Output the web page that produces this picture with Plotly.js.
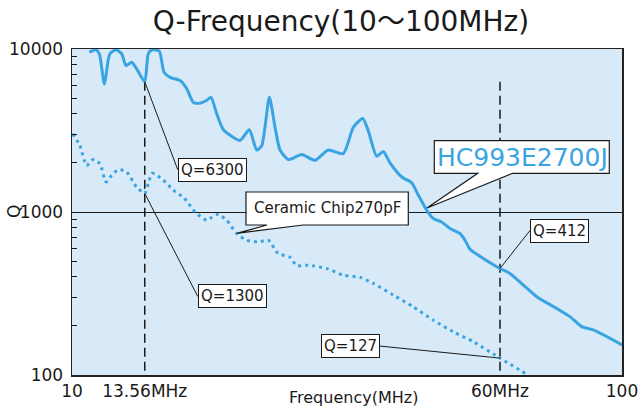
<!DOCTYPE html>
<html><head><meta charset="utf-8">
<script src="https://cdn.plot.ly/plotly-3.0.1.min.js"></script>
<style>html,body{margin:0;padding:0;background:#fff}#chart{width:641px;height:410px}</style>
</head><body><div id="chart"></div>
<script>
// ---- data ----
const hcName = 'HC993E2700J';
const hcFreq = [10.75, 11.06, 11.21, 11.27, 11.45, 11.64, 11.72, 12.02, 12.31, 12.54, 12.84, 13.11, 13.56, 13.76, 13.96, 14.41, 14.70, 15.08, 15.72, 16.17, 16.62, 17.09, 17.58, 17.90, 18.33, 18.85, 20.21, 21.01, 21.67, 22.13, 22.85, 23.40, 23.89, 24.74, 26.17, 27.66, 29.24, 31.13, 32.46, 33.77, 34.57, 35.81, 36.81, 37.86, 39.76, 41.46, 42.62, 44.15, 45.38, 47.01, 48.67, 50.75, 51.83, 52.93, 55.96, 60, 62.57, 66.16, 69.99, 76.06, 80.42, 84.47, 88.67, 100];
const hcQ = [9550, 9900, 9350, 8600, 6100, 8600, 9350, 9900, 9350, 7900, 8300, 7550, 6300, 9350, 9860, 9700, 7200, 6700, 6400, 5700, 4700, 4650, 4850, 5050, 4000, 3200, 2750, 3200, 2400, 2550, 5050, 3300, 2400, 2100, 2250, 2075, 2400, 2280, 3300, 3750, 3150, 2200, 2350, 2000, 1640, 1510, 1270, 1025, 912, 869, 792, 738, 671, 591, 519, 450, 420, 356, 302, 256, 228, 198, 189, 153];

const ceramicName = 'Ceramic Chip270pF';
const ceramicFreq = [10.03, 10.34, 10.63, 10.93, 11.24, 11.53, 11.81, 12.14, 12.57, 13.11, 13.56, 13.76, 14.00, 14.66, 15.29, 15.99, 16.74, 17.58, 17.97, 18.45, 19.11, 19.93, 20.78, 21.82, 22.75, 23.69, 24.91, 25.62, 26.90, 29.05, 31.13, 33.39, 35.30, 38.39, 41.74, 45.38, 49.35, 53.66, 60, 67.11];
const ceramicQ = [3020, 2550, 1930, 2100, 1980, 1530, 1680, 1820, 1760, 1420, 1300, 1490, 1730, 1565, 1360, 1220, 1000, 890, 929, 969, 890, 738, 671, 655, 671, 557, 528, 469, 472, 450, 410, 397, 365, 309, 262, 217, 184, 160, 127, 101];

const markerFreqs = [13.56, 60];
const markerTopQ = 6300;
const markerBottomQ = 100;
const hcLabels = ['Q=6300', 'Q=412'];
const ceramicLabels = ['Q=1300', 'Q=127'];

const xTickVals = [10, 13.56, 60, 100];
const xTickText = ['10', '13.56MHz', '60MHz', '100'];
const yTickVals = [100, 1000, 10000];
const yTickText = ['100', '1000', '10000'];
const yMinorVals = [200, 300, 400, 500, 600, 700, 800, 900, 2000, 3000, 4000, 5000, 6000, 7000, 8000, 9000];

const titleText = 'Q-Frequency(10〜100MHz)';
const xTitle = 'Frequency(MHz)';
const yTitle = 'Q';

// ---- styling ----
const FONT = 'DejaVu Sans, Noto Sans CJK JP, sans-serif';
const BLUE = '#3aa4e2';
const BG = '#d8eaf8';
const INK = '#1a1a1a';
const M = {l: 72, r: 19, t: 49, b: 35};
const W = 641, H = 410;
const PW = W - M.l - M.r, PH = H - M.t - M.b;
// pixel -> paper (for decorations only)
const px = x => (x - M.l) / PW;
const py = y => (H - M.b - y) / PH;

// dashed reference lines
const mx = [], my = [];
markerFreqs.forEach(f => { mx.push(f, f, null); my.push(markerTopQ, markerBottomQ, null); });

const traces = [
  {x: mx, y: my, mode: 'lines', line: {color: INK, width: 1.5, dash: '9px,5px'}, hoverinfo: 'skip'},
  {x: ceramicFreq, y: ceramicQ, name: ceramicName, mode: 'lines',
   line: {color: BLUE, width: 3, dash: '3px,4px', shape: 'spline', smoothing: 0.6}},
  {x: hcFreq, y: hcQ, name: hcName, mode: 'lines',
   line: {color: BLUE, width: 3, shape: 'spline', smoothing: 0.6}}
];

function qAt(fs, qs, f) { return qs[fs.indexOf(f)]; }

const boxFont = {family: FONT, size: 15, color: INK};
function qBox(text, f, q, ax, ay, xanchor) {
  return {x: Math.log10(f), y: Math.log10(q), xref: 'x', yref: 'y', text: text,
    showarrow: true, arrowhead: 0, arrowwidth: 1, arrowcolor: INK, ax: ax, ay: ay,
    xanchor: xanchor, yanchor: 'middle', bgcolor: '#fff', bordercolor: INK, borderwidth: 1,
    borderpad: 2, font: boxFont};
}

const annotations = [
  qBox(hcLabels[0], markerFreqs[0], qAt(hcFreq, hcQ, markerFreqs[0]), 33, 88, 'left'),
  qBox(ceramicLabels[0], markerFreqs[0], qAt(ceramicFreq, ceramicQ, markerFreqs[0]), 53, 103, 'left'),
  qBox(hcLabels[1], markerFreqs[1], qAt(hcFreq, hcQ, markerFreqs[1]), 30, -38, 'left'),
  qBox(ceramicLabels[1], markerFreqs[1], qAt(ceramicFreq, ceramicQ, markerFreqs[1]), -120, -12, 'right'),
  {xref: 'paper', yref: 'paper', x: px(522), y: py(157), text: hcName, showarrow: false,
   xanchor: 'center', yanchor: 'middle', font: {family: FONT, size: 25, color: BLUE}},
  {xref: 'paper', yref: 'paper', x: px(327), y: py(208.5), text: ceramicName, showarrow: false,
   xanchor: 'center', yanchor: 'middle', font: {family: FONT, size: 15, color: INK}},
  {xref: 'paper', yref: 'paper', x: px(353), y: py(397), text: xTitle, showarrow: false,
   xanchor: 'center', yanchor: 'middle', font: {family: FONT, size: 16, color: INK}},
  {xref: 'paper', yref: 'paper', x: px(14), y: py(212), text: yTitle, showarrow: false, textangle: -90,
   xanchor: 'center', yanchor: 'middle', font: {family: FONT, size: 17, color: INK}}
];

function calloutPath(L, T, R, B, b1, b2, tx, ty) {
  const p = (x, y) => px(x).toFixed(5) + ',' + py(y).toFixed(5);
  return 'M' + p(L, T) + ' L' + p(R, T) + ' L' + p(R, B) + ' L' + p(b2, B) + ' L' + p(tx, ty) +
    ' L' + p(b1, B) + ' L' + p(L, B) + ' Z';
}

const shapes = [
  {type: 'path', xref: 'paper', yref: 'paper', path: calloutPath(434.3, 140.7, 609.3, 173.3, 477.7, 512.7, 427, 208),
   fillcolor: '#fff', line: {color: INK, width: 1.2}, layer: 'above'},
  {type: 'path', xref: 'paper', yref: 'paper', path: calloutPath(246, 192, 408.3, 225, 267, 303, 236.7, 233.3),
   fillcolor: '#fff', line: {color: INK, width: 1.2}, layer: 'above'}
];

const layout = {
  width: W, height: H, margin: M, paper_bgcolor: '#fff', plot_bgcolor: BG,
  showlegend: false, hovermode: false,
  font: {family: FONT, size: 17, color: INK},
  title: {text: titleText, x: 341 / W, xref: 'container', xanchor: 'center',
    y: 1 - 21 / H, yref: 'container', yanchor: 'middle', font: {family: FONT, size: 28, color: INK}},
  xaxis: {type: 'log', range: [1, 2], tickmode: 'array', tickvals: xTickVals, ticktext: xTickText,
    ticks: '', showgrid: false, zeroline: false, showline: true, mirror: true, linecolor: '#222', linewidth: 1.5,
    tickfont: {family: FONT, size: 17, color: INK}},
  yaxis: {type: 'log', range: [2, 4], tickmode: 'array', tickvals: yTickVals, ticktext: yTickText,
    ticks: '', showgrid: true, gridcolor: INK, gridwidth: 1, zeroline: false, showline: true, mirror: true,
    linecolor: '#222', linewidth: 1.5, ticklabelstandoff: 4,
    tickfont: {family: FONT, size: 17, color: INK},
    minor: {tickmode: 'array', tickvals: yMinorVals, ticks: 'inside', ticklen: 5, tickwidth: 1, tickcolor: INK, showgrid: false}},
  annotations: annotations,
  shapes: shapes
};

Plotly.newPlot('chart', traces, layout, {staticPlot: true, displayModeBar: false});
</script>
</body></html>
